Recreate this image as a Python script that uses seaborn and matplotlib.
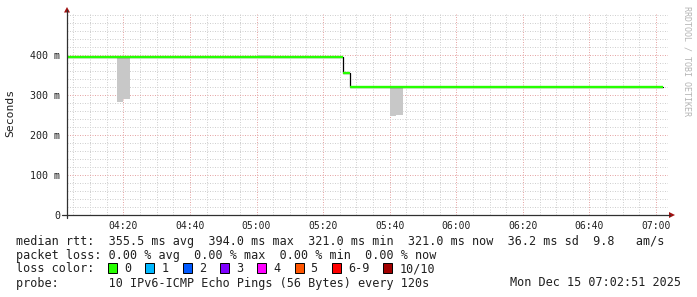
import numpy as np
import pandas as pd
import matplotlib
matplotlib.use('Agg')
import matplotlib.pyplot as plt
import matplotlib.dates as mdates
from matplotlib.ticker import FuncFormatter, MultipleLocator
from matplotlib.patches import Rectangle, Polygon
from matplotlib.lines import Line2D
import seaborn as sns

# ---------------- data ----------------
day = '2025-12-15 '
median_start = ['04:02', '05:26', '05:28']
median_end = ['05:26', '05:28', '07:02']
median_rtt = [0.394, 0.3555, 0.321]          # seconds

smoke_start = ['04:18', '04:20', '05:00', '05:40', '05:42']
smoke_end = ['04:20', '04:22', '05:04', '05:42', '05:44']
smoke_low = [0.283, 0.291, 0.394, 0.248, 0.251]
smoke_high = [0.394, 0.394, 0.3995, 0.321, 0.321]

y_ticks = [0.0, 0.1, 0.2, 0.3, 0.4]
x_ticks = ['04:20', '04:40', '05:00', '05:20', '05:40', '06:00', '06:20', '06:40', '07:00']
view_start = '04:03:05'
view_end = '07:03:35'

loss_labels = ['0', '1', '2', '3', '4', '5', '6-9', '10/10']
loss_colors = ['#26ff00', '#00b8ff', '#0059ff', '#7e00ff', '#ff00ff', '#ff5500', '#ff0000', '#a10000']

line_rtt = 'median rtt:  355.5 ms avg  394.0 ms max  321.0 ms min  321.0 ms now  36.2 ms sd  9.8   am/s'
line_loss = 'packet loss: 0.00 % avg  0.00 % max  0.00 % min  0.00 % now'
line_color = 'loss color:'
line_probe = 'probe:       10 IPv6-ICMP Echo Pings (56 Bytes) every 120s'
stamp = 'Mon Dec 15 07:02:51 2025'
watermark = 'RRDTOOL / TOBI OETIKER'
y_label = 'Seconds'

# ---------------- figure ----------------
W, H = 697, 297
sns.set_style('white')
plt.rcParams['font.family'] = ['DejaVu Sans Mono']
fig = plt.figure(figsize=(W / 100, H / 100), dpi=100)
fig.patch.set_facecolor('white')

def fx(x):
    return x / W

def fy(y):
    return 1 - y / H

ax = fig.add_axes([fx(67), fy(215), (668 - 67) / W, (215 - 13) / H])
ax.set_facecolor('white')

t = lambda s: pd.Timestamp(day + s)

# smoke
for s0, s1, lo, hi in zip(smoke_start, smoke_end, smoke_low, smoke_high):
    ax.fill_between([t(s0), t(s1)], [lo, lo], [hi, hi], color='#c8c8c8', lw=0, zorder=2)

# median: black step line + green horizontal segments
step_x = [t(s) for s in median_start] + [t(median_end[-1])]
step_y = median_rtt + [median_rtt[-1]]
df = pd.DataFrame({'time': step_x, 'rtt': step_y})
sns.lineplot(data=df, x='time', y='rtt', drawstyle='steps-post', color='black',
             lw=0.9, ax=ax, zorder=3, estimator=None)
ax.hlines(median_rtt, [t(s) for s in median_start], [t(s) for s in median_end],
          color=loss_colors[0], lw=1.7, zorder=4)

# axes limits & ticks
ax.set_xlim(t(view_start), t(view_end))
ax.set_ylim(0, 0.505)
ax.set_xticks([t(s) for s in x_ticks])
ax.xaxis.set_major_formatter(mdates.DateFormatter('%H:%M'))
ax.xaxis.set_minor_locator(mdates.MinuteLocator(byminute=range(0, 60, 5)))
ax.set_yticks(y_ticks)
ax.yaxis.set_minor_locator(MultipleLocator(0.02))
ax.yaxis.set_major_formatter(FuncFormatter(lambda v, _: '0' if abs(v) < 1e-9 else f'{v * 1000:.0f} m'))
ax.set_xlabel('')
ax.set_ylabel('')

ax.tick_params(axis='both', which='major', length=1.5, width=0.7, color='#303030', labelcolor='#202020')
ax.tick_params(axis='both', which='minor', length=0)
ax.tick_params(axis='y', labelsize=7.2, pad=3.6)
ax.tick_params(axis='x', labelsize=7.0, pad=2.6)

ax.set_axisbelow(True)
ax.grid(which='minor', color='#d0d0d0', linestyle=(0, (1, 1.5)), lw=0.72)
ax.grid(which='major', color='#e6a6a6', linestyle=(0, (1, 1.5)), lw=0.72)
for sp in ax.spines.values():
    sp.set_visible(False)

# axis lines with arrows
fig.add_artist(Line2D([fx(67), fx(67)], [fy(218), fy(10)], color='#303030', lw=0.9))
fig.add_artist(Line2D([fx(62), fx(670)], [fy(215), fy(215)], color='#303030', lw=0.9))
fig.add_artist(Polygon([[fx(64), fy(12.5)], [fx(70), fy(12.5)], [fx(67), fy(7)]],
                       closed=True, color='#a01010', lw=0))
fig.add_artist(Polygon([[fx(669), fy(212)], [fx(669), fy(218)], [fx(675), fy(215)]],
                       closed=True, color='#a01010', lw=0))

# y label and watermark
fig.text(fx(10), fy(113), y_label, rotation=90, ha='center', va='center', fontsize=8.2, color='#202020')
fig.text(fx(687), fy(6), watermark, rotation=270, ha='center', va='top', fontsize=6, color='#b4b4b4')

# legend lines
fs = 8.5
cw = 7.12
fig.text(fx(16), fy(241.5), line_rtt, ha='left', va='center', fontsize=fs, color='#202020')
fig.text(fx(16), fy(255.5), line_loss, ha='left', va='center', fontsize=fs, color='#202020')
fig.text(fx(16), fy(269), line_color, ha='left', va='center', fontsize=fs, color='#202020')
fig.text(fx(16), fy(283), line_probe, ha='left', va='center', fontsize=fs, color='#202020')
fig.text(fx(681), fy(283), stamp, ha='right', va='center', fontsize=fs, color='#202020')

bx = 108.0
for lab, col in zip(loss_labels, loss_colors):
    fig.add_artist(Rectangle((fx(bx), fy(272.5)), 9 / W, 9.5 / H, facecolor=col,
                             edgecolor='black', lw=0.7))
    fig.text(fx(bx + 16), fy(269), lab, ha='left', va='center', fontsize=fs, color='#202020')
    bx += 16 + len(lab) * cw + 14.2

fig.savefig('out.png', dpi=100, facecolor='white')
